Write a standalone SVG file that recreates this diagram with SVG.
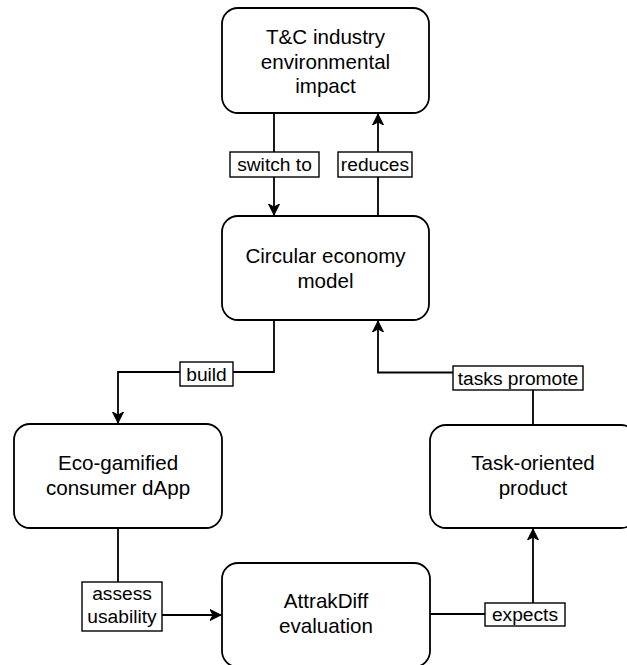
<svg xmlns="http://www.w3.org/2000/svg" width="627" height="665" viewBox="0 0 627 665">
  <style>
    .node rect { fill: #ffffff; stroke: #000000; stroke-width: 1.8; }
    .node text { font-family: "Liberation Sans", Arial, sans-serif; font-size: 20.6px; fill: #000000; text-anchor: middle; }
    .edge { fill: none; stroke: #000000; stroke-width: 1.8; }
    .lbl rect { fill: #ffffff; stroke: #000000; stroke-width: 1.4; }
    .lbl text { font-family: "Liberation Sans", Arial, sans-serif; font-size: 19.2px; fill: #000000; text-anchor: middle; }
  </style>
  <defs>
    <marker id="arrow" viewBox="0 0 12 12" refX="11" refY="6" markerWidth="12" markerHeight="12" markerUnits="userSpaceOnUse" orient="auto">
      <path d="M0,0.5 L11,6 L0,11.5 L3,6 Z" fill="#000000" stroke="#000000" stroke-width="1"/>
    </marker>
  </defs>

  <rect width="627" height="665" fill="#ffffff"/>

  <!-- connectors -->
  <g id="connectors">
    <path class="edge" d="M274,113 V215" marker-end="url(#arrow)"/>
    <path class="edge" d="M378,216 V114" marker-end="url(#arrow)"/>
    <path class="edge" d="M274,320 V372 H118 V423" marker-end="url(#arrow)"/>
    <path class="edge" d="M118,528 V615 H221" marker-end="url(#arrow)"/>
    <path class="edge" d="M430,614 H533 V529" marker-end="url(#arrow)"/>
    <path class="edge" d="M533,425 V372.5 H378 V321" marker-end="url(#arrow)"/>

    <g class="lbl">
      <rect x="230" y="152" width="89" height="25"/>
      <text x="274.5" y="171">switch to</text>
    </g>
    <g class="lbl">
      <rect x="338" y="152" width="74" height="25"/>
      <text x="375" y="171">reduces</text>
    </g>
    <g class="lbl">
      <rect x="180" y="362" width="53" height="24"/>
      <text x="206.5" y="380.5">build</text>
    </g>
    <g class="lbl">
      <rect x="453" y="366" width="130" height="24"/>
      <text x="518" y="384.5">tasks promote</text>
    </g>
    <g class="lbl">
      <rect x="82" y="582" width="80" height="49"/>
      <text x="122" y="600">assess</text>
      <text x="122" y="623">usability</text>
    </g>
    <g class="lbl">
      <rect x="485" y="603" width="80" height="23"/>
      <text x="525" y="621">expects</text>
    </g>
  </g>

  <!-- nodes -->
  <g id="tc-impact" class="node">
    <rect x="222" y="8" width="207" height="105" rx="16"/>
    <text x="325.5" y="44">T&amp;C industry</text>
    <text x="325.5" y="68.5">environmental</text>
    <text x="325.5" y="93">impact</text>
  </g>
  <g id="circular-economy" class="node">
    <rect x="222" y="216" width="207" height="104" rx="16"/>
    <text x="325.5" y="263">Circular economy</text>
    <text x="325.5" y="288">model</text>
  </g>
  <g id="eco-dapp" class="node">
    <rect x="14" y="424" width="208" height="104" rx="16"/>
    <text x="118" y="470">Eco-gamified</text>
    <text x="118" y="495">consumer dApp</text>
  </g>
  <g id="task-product" class="node">
    <rect x="430" y="425" width="207" height="103" rx="16"/>
    <text x="533" y="470">Task-oriented</text>
    <text x="533" y="495">product</text>
  </g>
  <g id="attrakdiff" class="node">
    <rect x="222" y="563" width="208" height="104" rx="16"/>
    <text x="326" y="608">AttrakDiff</text>
    <text x="326" y="633">evaluation</text>
  </g>
</svg>
